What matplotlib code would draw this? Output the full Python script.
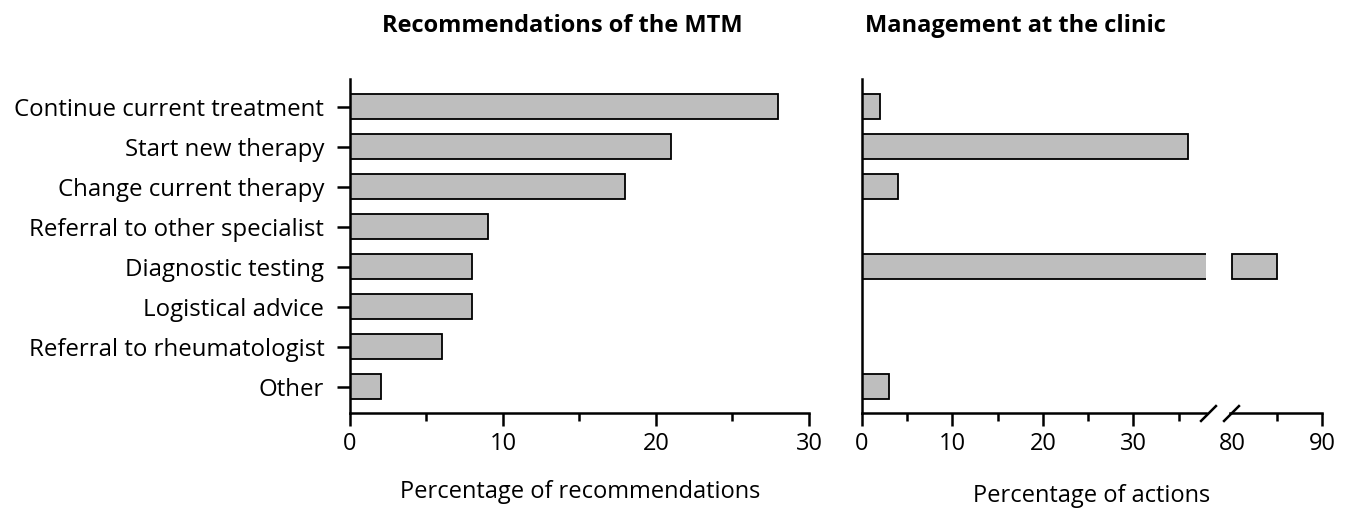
import numpy as np
import matplotlib
matplotlib.use("Agg")
import matplotlib.pyplot as plt

plt.rcParams['font.family'] = ['Open Sans', 'DejaVu Sans']

# categories (top to bottom)
categories = ['Continue current treatment', 'Start new therapy', 'Change current therapy',
              'Referral to other specialist', 'Diagnostic testing', 'Logistical advice',
              'Referral to rheumatologist', 'Other']
# percentage of recommendations of the MTM
mtm = [28, 21, 18, 9, 8, 8, 6, 2]
# percentage of actions at the clinic
clinic = [2, 36, 4, 0, 85, 0, 0, 3]

break_lo = 38
break_hi = 80

bar_col = '#bebebe'
lw = 1.8

fig = plt.figure(figsize=(13.47, 5.08), dpi=100)
ax1 = fig.add_axes([0.2598, 0.187, 0.3408, 0.6575])
ax2 = fig.add_axes([0.6397, 0.187, 0.2556, 0.6575])
ax3 = fig.add_axes([0.9132, 0.187, 0.0685, 0.6575])

ypos = np.arange(len(categories))[::-1]

# left panel
ax1.barh(ypos, mtm, height=0.63, color=bar_col, edgecolor='black', linewidth=1.3)
ax1.set_xlim(0, 30)
ax1.set_ylim(-0.66, 7.69)
ax1.set_xticks([0, 10, 20, 30])
ax1.set_xticks([5, 15, 25], minor=True)
ax1.set_yticks(ypos)
ax1.set_yticklabels(categories, fontsize=17.3)

# right panel, lower part
ax2.barh(ypos, clinic, height=0.63, color=bar_col, edgecolor='black', linewidth=1.3)
ax2.set_xlim(0, break_lo)
ax2.set_ylim(-0.66, 7.69)
ax2.set_xticks([0, 10, 20, 30])
ax2.set_xticks([5, 15, 25, 35], minor=True)
ax2.set_yticks([])

# right panel, upper part
big = [v for v in clinic if v > break_hi]
big_y = [y for y, v in zip(ypos, clinic) if v > break_hi]
ax3.barh(big_y, [v - break_hi for v in big], left=break_hi, height=0.63,
         color=bar_col, edgecolor='black', linewidth=1.3)
ax3.set_xlim(79.8, 90)
ax3.set_ylim(-0.66, 7.69)
ax3.set_xticks([80, 90])
ax3.set_xticks([85], minor=True)
ax3.set_yticks([])
ax3.xaxis.get_major_ticks()[0].tick1line.set_visible(False)

for ax in (ax1, ax2, ax3):
    for s in ('top', 'right'):
        ax.spines[s].set_visible(False)
    ax.spines['bottom'].set_linewidth(lw)
    ax.spines['left'].set_linewidth(lw)
    ax.tick_params(axis='x', which='major', length=9.5, width=lw, labelsize=17, pad=4)
    ax.tick_params(axis='x', which='minor', length=6, width=lw)
    ax.tick_params(axis='y', length=9.5, width=lw, pad=9)
ax2.tick_params(axis='y', length=0)
ax3.spines['left'].set_visible(False)
ax3.tick_params(axis='y', length=0)

# break marks
slash = [(-1, -1), (1, 1)]
ax2.plot([1.007], [0], transform=ax2.transAxes, marker=slash, markersize=12,
         mew=lw, color='black', linestyle='none', clip_on=False)
ax3.plot([0.005], [0], transform=ax3.transAxes, marker=slash, markersize=12,
         mew=lw, color='black', linestyle='none', clip_on=False)

# titles and axis labels
fig.text(562 / 1347, 1 - 26 / 508, 'Recommendations of the MTM', fontsize=17,
         fontweight='bold', ha='center', va='center')
fig.text(1015 / 1347, 1 - 26 / 508, 'Management at the clinic', fontsize=17,
         fontweight='bold', ha='center', va='center')
fig.text(580 / 1347, 1 - 492 / 508, 'Percentage of recommendations', fontsize=17,
         ha='center', va='center')
fig.text(1092 / 1347, 1 - 496 / 508, 'Percentage of actions', fontsize=17,
         ha='center', va='center')

fig.savefig('out.png', dpi=100)
